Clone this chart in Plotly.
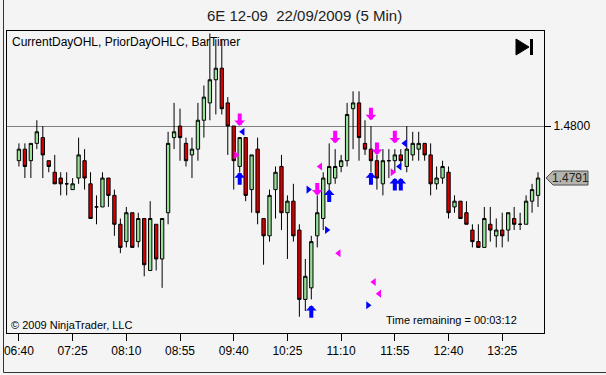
import plotly.graph_objects as go

# ---- data -------------------------------------------------------------
bar_index = list(range(88))
open_ = [1.4794,1.4796,1.4794,1.4797,1.4798,1.4794,1.4792,1.4791,1.4790,1.4789,
         1.4791,1.4794,1.4790,1.4786,1.4786,1.4791,1.4788,1.4783,1.4780,1.4785,
         1.4780,1.4784,1.4775,1.4783,1.4777,1.4785,1.4798,1.4800,1.4797,1.4795,
         1.4796,1.4801,1.4804,1.4808,1.4810,1.4804,1.4800,1.4793,1.4798,1.4789,
         1.4796,1.4784,1.4781,1.4789,1.4793,1.4785,1.4787,1.4782,1.4770,1.4772,
         1.4781,1.4784,1.4790,1.4791,1.4793,1.4794,1.4803,1.4804,1.4797,1.4796,
         1.4794,1.4790,1.4794,1.4794,1.4795,1.4793,1.4795,1.4796,1.4797,1.4795,
         1.4790,1.4791,1.4792,1.4786,1.4787,1.4785,1.4782,1.4780,1.4779,1.4783,
         1.4781,1.4782,1.4782,1.4784,1.4783,1.4783,1.4787,1.4788]
high = [1.4797,1.4797,1.4797,1.4801,1.4800,1.4794,1.4795,1.4792,1.4792,1.4791,
        1.4798,1.4796,1.4792,1.4788,1.4792,1.4791,1.4789,1.4784,1.4786,1.4785,
        1.4785,1.4784,1.4787,1.4783,1.4784,1.4799,1.4804,1.4803,1.4798,1.4798,
        1.4804,1.4807,1.4816,1.4815,1.4815,1.4805,1.4800,1.4798,1.4798,1.4795,
        1.4798,1.4784,1.4789,1.4793,1.4795,1.4788,1.4790,1.4783,1.4777,1.4781,
        1.4788,1.4792,1.4797,1.4796,1.4795,1.4804,1.4806,1.4806,1.4801,1.4800,
        1.4795,1.4796,1.4796,1.4796,1.4796,1.4800,1.4799,1.4799,1.4797,1.4797,
        1.4793,1.4794,1.4793,1.4788,1.4787,1.4787,1.4783,1.4783,1.4786,1.4786,
        1.4784,1.4785,1.4785,1.4786,1.4785,1.4788,1.4790,1.4792]
low = [1.4793,1.4791,1.4791,1.4796,1.4791,1.4792,1.4790,1.4788,1.4788,1.4789,
       1.4790,1.4789,1.4784,1.4783,1.4786,1.4786,1.4781,1.4778,1.4779,1.4779,
       1.4779,1.4774,1.4775,1.4775,1.4772,1.4783,1.4796,1.4794,1.4793,1.4791,
       1.4794,1.4798,1.4801,1.4802,1.4802,1.4795,1.4789,1.4792,1.4787,1.4785,
       1.4783,1.4776,1.4780,1.4784,1.4782,1.4777,1.4780,1.4767,1.4768,1.4770,
       1.4779,1.4782,1.4788,1.4790,1.4792,1.4793,1.4796,1.4794,1.4795,1.4792,
       1.4789,1.4788,1.4791,1.4792,1.4793,1.4792,1.4794,1.4794,1.4794,1.4788,
       1.4789,1.4790,1.4784,1.4785,1.4784,1.4783,1.4779,1.4779,1.4779,1.4780,
       1.4779,1.4779,1.4780,1.4782,1.4782,1.4783,1.4785,1.4786]
close = [1.4796,1.4793,1.4797,1.4799,1.4795,1.4793,1.4790,1.4790,1.4790,1.4790,
         1.4795,1.4791,1.4784,1.4786,1.4791,1.4788,1.4783,1.4779,1.4785,1.4779,
         1.4784,1.4776,1.4784,1.4777,1.4784,1.4797,1.4799,1.4798,1.4794,1.4796,
         1.4801,1.4805,1.4808,1.4810,1.4803,1.4800,1.4794,1.4798,1.4788,1.4795,
         1.4785,1.4781,1.4788,1.4792,1.4785,1.4787,1.4781,1.4770,1.4774,1.4780,
         1.4785,1.4791,1.4793,1.4793,1.4794,1.4802,1.4804,1.4798,1.4796,1.4794,
         1.4791,1.4794,1.4794,1.4795,1.4794,1.4796,1.4797,1.4797,1.4795,1.4790,
         1.4791,1.4793,1.4785,1.4787,1.4784,1.4783,1.4780,1.4779,1.4784,1.4782,
         1.4782,1.4781,1.4785,1.4783,1.4783,1.4787,1.4789,1.4791]

tick_index = [0, 9, 18, 27, 36, 45, 54, 63, 72, 81]
tick_labels = ["06:40", "07:25", "08:10", "08:55", "09:40",
               "10:25", "11:10", "11:55", "12:40", "13:25"]
price_ticks = [1.4800]
price_tick_labels = ["1.4800"]
last_price = 1.4791

# signal markers (bar index, price at arrow tip / marker centre)
pink_down_x = [37, 50, 53, 59, 60, 63]
pink_down_y = [1.4800, 1.4788, 1.4797, 1.4801, 1.4795, 1.4797]
blue_up_x = [37, 49, 52, 59, 63, 64]
blue_up_y = [1.4792, 1.4769, 1.4789, 1.4792, 1.4791, 1.4791]
blue_left_x = [37.5, 63.8, 64.7]
blue_left_y = [1.4799, 1.4793, 1.4797]
blue_right_x = [48.5, 51.6, 58.5]
blue_right_y = [1.4789, 1.4782, 1.4769]
pink_left_x = [50.5, 53.6, 59.5, 60.4]
pink_left_y = [1.4793, 1.4778, 1.4773, 1.4771]
pink_right_x = [36.4, 62.6]
pink_right_y = [1.4795, 1.4792]

# ---- styles -----------------------------------------------------------
FONT = "Liberation Sans Narrow, Arial Narrow, Liberation Sans, Arial, sans-serif"
BG = "#F4F4F4"
GREEN = "#98E098"
RED = "#D40000"
PINK = "#FF00FF"
BLUE = "#0000FF"

fig = go.Figure()
fig.add_trace(go.Candlestick(
    x=bar_index, open=open_, high=high, low=low, close=close,
    increasing=dict(fillcolor=GREEN, line=dict(color="black", width=1)),
    decreasing=dict(fillcolor=RED, line=dict(color="black", width=1)),
    whiskerwidth=0, showlegend=False, hoverinfo="skip"))

for xs, ys, sym, col in [(blue_left_x, blue_left_y, "triangle-left", BLUE),
                         (blue_right_x, blue_right_y, "triangle-right", BLUE),
                         (pink_left_x, pink_left_y, "triangle-left", PINK),
                         (pink_right_x, pink_right_y, "triangle-right", PINK)]:
    fig.add_trace(go.Scatter(x=xs, y=ys, mode="markers",
                             marker=dict(symbol=sym, size=7, color=col, line=dict(width=0)),
                             showlegend=False, hoverinfo="skip"))

annotations = []
for xs, ys, col, ay in [(pink_down_x, pink_down_y, PINK, -14),
                        (blue_up_x, blue_up_y, BLUE, 14)]:
    for x, y in zip(xs, ys):
        annotations.append(dict(x=x, y=y, xref="x", yref="y", text="", showarrow=True,
                                ax=0, ay=ay, arrowhead=1, arrowwidth=4, arrowsize=0.45,
                                arrowcolor=col, standoff=0, startstandoff=0))

annotations += [
    dict(text="6E 12-09  22/09/2009 (5 Min)", xref="paper", yref="paper", x=0.5537, y=1,
         yshift=16, xanchor="center", yanchor="middle", showarrow=False,
         font=dict(family=FONT, size=15, color="#222222")),
    dict(text="CurrentDayOHL, PriorDayOHLC, BarTimer", xref="paper", yref="paper",
         x=0, y=1, xshift=3, yshift=-11, xanchor="left", yanchor="middle", showarrow=False,
         font=dict(family=FONT, size=12, color="black")),
    dict(text="© 2009 NinjaTrader, LLC", xref="paper", yref="paper", x=0, y=0,
         xshift=2, yshift=8, xanchor="left", yanchor="middle", showarrow=False,
         font=dict(family=FONT, size=11, color="black")),
    dict(text="Time remaining = 00:03:12", xref="paper", yref="paper", x=1, y=0,
         xshift=-25, yshift=13, xanchor="right", yanchor="middle", showarrow=False,
         font=dict(family=FONT, size=11, color="black")),
    dict(text=f"{last_price:.4f}", xref="paper", yref="y", x=1, y=last_price,
         xshift=26, xanchor="center", yanchor="middle", showarrow=False,
         font=dict(family=FONT, size=12, color="#222222")),
]

shapes = [
    # last-price tag
    dict(type="path", xref="paper", yref="y", xsizemode="pixel", ysizemode="pixel",
         xanchor=1, yanchor=last_price,
         path="M 2,0 L 9,7 L 44,7 L 44,-7 L 9,-7 Z",
         fillcolor="#B4B4AC", line=dict(color="#505050", width=1)),
    # "go to last bar" icon
    dict(type="path", xref="paper", yref="paper", xsizemode="pixel", ysizemode="pixel",
         xanchor=1, yanchor=1, path="M -28,-8 L -15,-16 L -28,-24 Z",
         fillcolor="black", line=dict(color="black", width=1)),
    dict(type="rect", xref="paper", yref="paper", xsizemode="pixel", ysizemode="pixel",
         xanchor=1, yanchor=1, x0=-14, x1=-11, y0=-8, y1=-24,
         fillcolor="black", line=dict(width=0)),
    # outer frame
    dict(type="rect", xref="paper", yref="paper", xsizemode="pixel", ysizemode="pixel",
         xanchor=0, yanchor=0, x0=-3.5, x1=599.5, y0=-39.5, y1=344,
         line=dict(color="#333333", width=1)),
]

fig.update_layout(
    width=606, height=375,
    margin=dict(l=4, r=62, t=31, b=42),
    paper_bgcolor=BG, plot_bgcolor=BG,
    boxgap=0.2,
    showlegend=False,
    annotations=annotations,
    shapes=shapes,
    font=dict(family=FONT, size=12, color="black"),
    xaxis=dict(range=[-2, 88], tickmode="array", tickvals=tick_index, ticktext=tick_labels,
               ticks="outside", ticklen=7, tickcolor="black", tickwidth=1,
               ticklabeloverflow="allow",
               showline=True, linecolor="black", linewidth=1, mirror=True,
               showgrid=False, zeroline=False, rangeslider=dict(visible=False),
               tickfont=dict(family=FONT, size=12, color="black")),
    yaxis=dict(range=[1.476419, 1.481644], side="right", tickmode="array",
               tickvals=price_ticks, ticktext=price_tick_labels,
               ticks="outside", ticklen=6, tickcolor="black",
               showline=True, linecolor="black", linewidth=1, mirror=True,
               showgrid=True, gridcolor="#808080", gridwidth=1, zeroline=False,
               tickfont=dict(family=FONT, size=12, color="black")),
)

fig.write_html("out.html")
